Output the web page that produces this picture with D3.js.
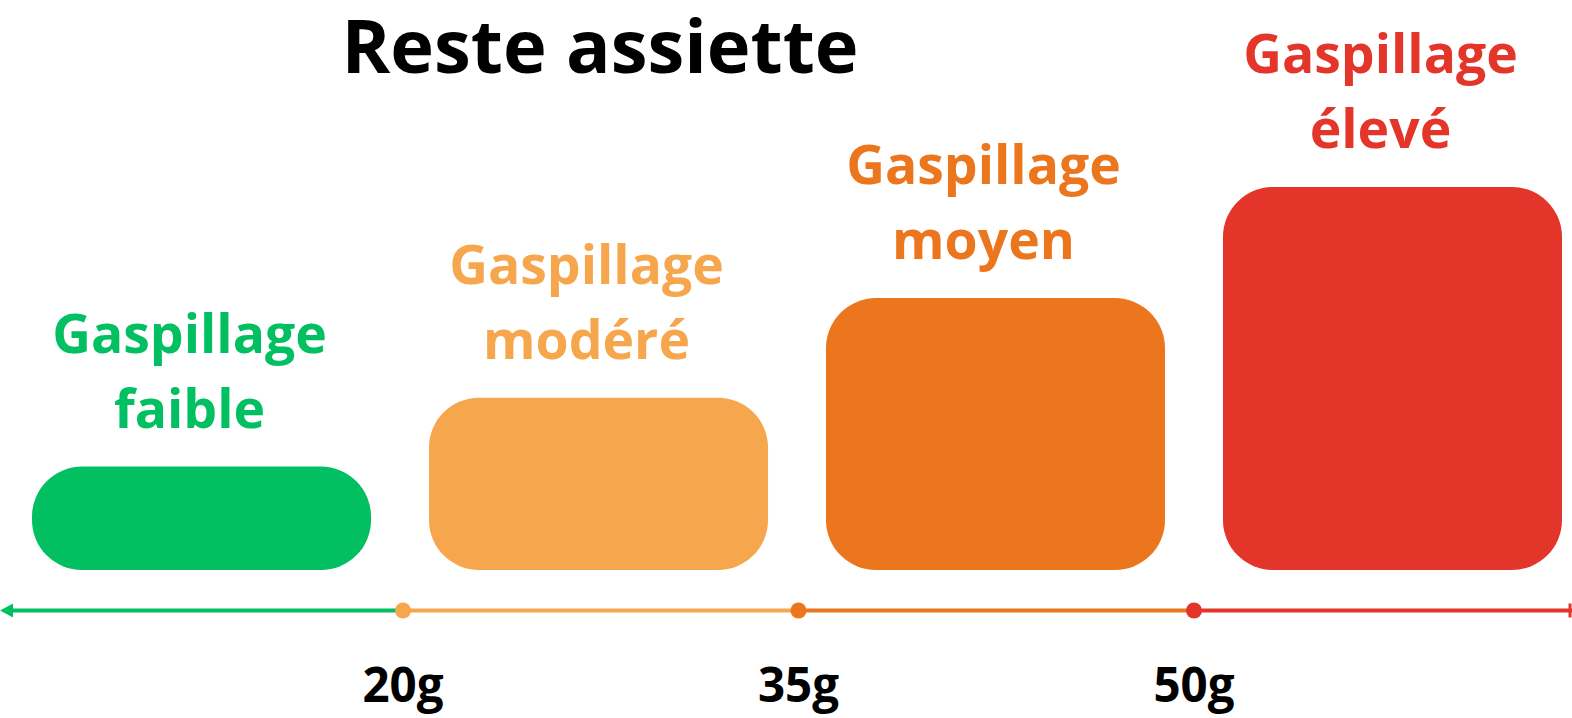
<!DOCTYPE html>
<html lang="fr">
<head>
  <meta charset="UTF-8">
  <title>Reste assiette</title>
  <script src="https://d3js.org/d3.v7.min.js"></script>
  <style>
    body {
      margin: 0;
      padding: 0;
      background: #fff;
      font-family: "Open Sans", sans-serif;
    }
    .title {
      font: bold 74px "Open Sans", sans-serif;
      text-anchor: middle;
      fill: #000;
    }
    .cat-label {
      font: bold 53.5px "Open Sans", sans-serif;
      text-anchor: middle;
    }
    .tick-label {
      font: bold 47.5px "Open Sans", sans-serif;
      text-anchor: middle;
      fill: #000;
    }
  </style>
</head>
<body>
  <script>
    // data
    const categories = ["Gaspillage faible", "Gaspillage modéré", "Gaspillage moyen", "Gaspillage élevé"];
    const labelLines = [["Gaspillage", "faible"], ["Gaspillage", "modéré"], ["Gaspillage", "moyen"], ["Gaspillage", "élevé"]];
    const levels = [27, 45, 71, 100];
    const colors = ["#02BF62", "#F6A74D", "#EC761E", "#E4352A"];
    const thresholds = [20, 35, 50];
    const tickLabels = ["20g", "35g", "50g"];

    const width = 1572;
    const height = 718;

    const svg = d3.select("body").append("svg")
      .attr("width", width)
      .attr("height", height);

    // scales
    const x = d3.scaleBand()
      .domain(categories)
      .range([32, 1562])
      .paddingInner(0.146)
      .paddingOuter(0);

    const y = d3.scaleLinear()
      .domain([0, 100])
      .range([570, 187]);

    const g = d3.scaleLinear()   // grams along the bottom line
      .domain([20, 50])
      .range([403, 1194]);

    const axisY = 610.5;

    // title
    svg.append("text")
      .attr("class", "title")
      .attr("x", 600)
      .attr("y", 73)
      .text("Reste assiette");

    // bars
    svg.append("g")
      .selectAll("rect")
      .data(categories)
      .join("rect")
      .attr("x", d => x(d))
      .attr("y", (d, i) => y(levels[i]))
      .attr("width", x.bandwidth())
      .attr("height", (d, i) => y(0) - y(levels[i]))
      .attr("rx", (d, i) => Math.min(50, (y(0) - y(levels[i])) / 2))
      .attr("fill", (d, i) => colors[i]);

    // labels above bars
    const labels = svg.append("g")
      .selectAll("text")
      .data(categories)
      .join("text")
      .attr("class", "cat-label")
      .attr("fill", (d, i) => colors[i])
      .attr("x", d => x(d) + x.bandwidth() / 2 - 12)
      .attr("y", (d, i) => y(levels[i]) - 114);

    labels.selectAll("tspan")
      .data((d, i) => labelLines[i])
      .join("tspan")
      .attr("x", function() { return this.parentNode.getAttribute("x"); })
      .attr("dy", (d, j) => j === 0 ? 0 : 75)
      .text(d => d);

    // bottom line, one segment per category
    const edges = [0, ...thresholds.map(t => g(t)), width];
    svg.append("g")
      .selectAll("line")
      .data(categories)
      .join("line")
      .attr("x1", (d, i) => i === 0 ? edges[i] + 8 : edges[i])
      .attr("x2", (d, i) => edges[i + 1])
      .attr("y1", axisY)
      .attr("y2", axisY)
      .attr("stroke", (d, i) => colors[i])
      .attr("stroke-width", 4);

    // left arrow head
    svg.append("path")
      .attr("d", d3.line()([[0, axisY], [13, axisY - 7], [13, axisY + 7]]) + "Z")
      .attr("fill", colors[0]);

    // right end tick
    svg.append("line")
      .attr("x1", width - 2)
      .attr("x2", width - 2)
      .attr("y1", axisY - 7)
      .attr("y2", axisY + 7)
      .attr("stroke", colors[3])
      .attr("stroke-width", 3);

    // threshold dots
    svg.append("g")
      .selectAll("circle")
      .data(thresholds)
      .join("circle")
      .attr("cx", d => g(d))
      .attr("cy", axisY)
      .attr("r", 8)
      .attr("fill", (d, i) => colors[i + 1]);

    // tick labels
    svg.append("g")
      .selectAll("text")
      .data(thresholds)
      .join("text")
      .attr("class", "tick-label")
      .attr("x", d => g(d))
      .attr("y", 702)
      .text((d, i) => tickLabels[i]);
  </script>
</body>
</html>
